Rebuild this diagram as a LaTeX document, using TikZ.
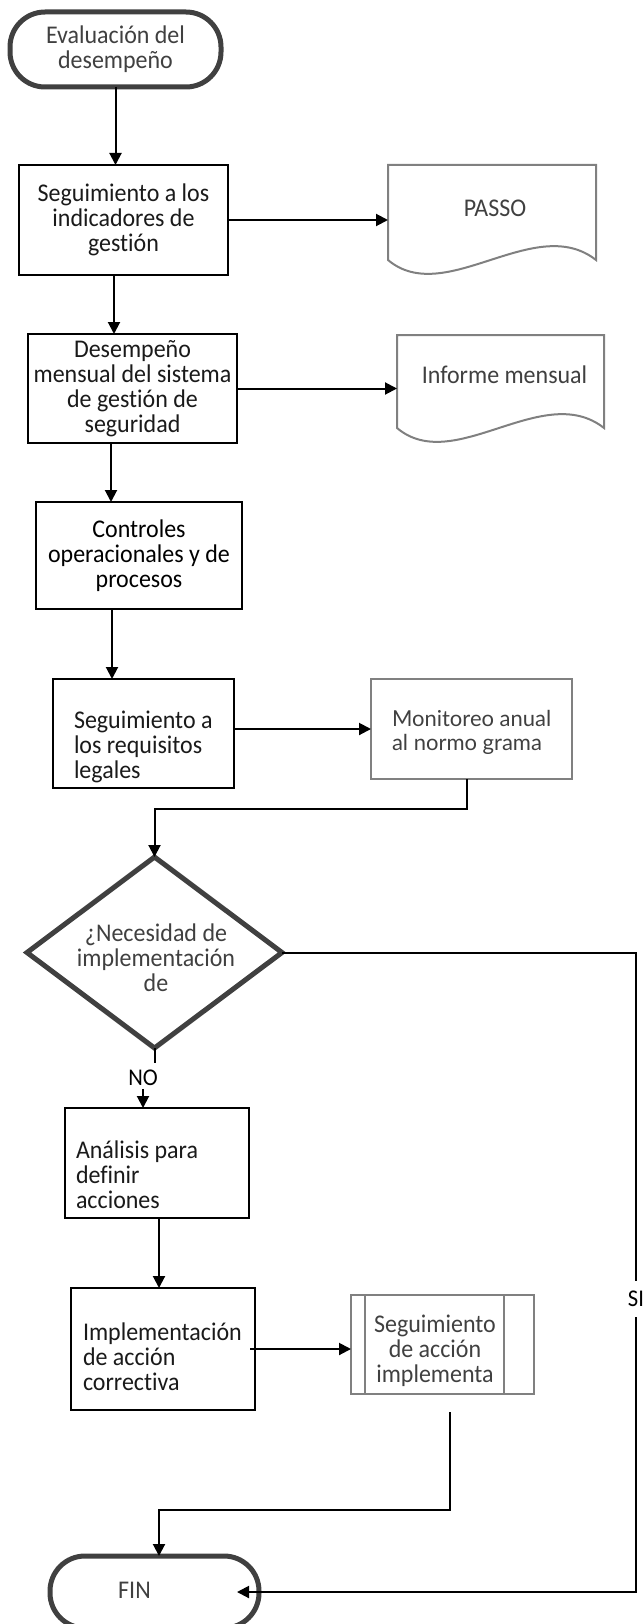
\documentclass[tikz,border=0pt]{standalone}
\usepackage{fontspec}
\setmainfont{Carlito}[FakeStretch=0.94,RawFeature={-liga;-clig;-calt;-dlig}]
\newfontfamily\latofont{Lato}[RawFeature={-liga;-clig;-calt;-dlig}]
\usetikzlibrary{arrows.meta,calc}
\definecolor{termgray}{HTML}{404040}
\definecolor{docgray}{HTML}{808080}
\definecolor{txtgray}{HTML}{404040}
\definecolor{txtblack}{HTML}{1A1A1A}
\begin{document}
\begin{tikzpicture}[x=1pt,y=-1pt,
  every node/.style={inner sep=0pt,outer sep=0pt},
  term/.style={draw=termgray,line width=5pt,rounded corners=35pt,fill=white},
  procbox/.style={draw=black,line width=2.5pt,fill=white},
  graybox/.style={draw=docgray,line width=2pt},
  conn/.style={line width=2pt,draw=black},
  arr/.style={conn,-{Triangle[length=12pt,width=12pt]}},
  btxt/.style={font=\fontsize{25.5}{25}\selectfont,text=txtblack,align=center},
  ltxt/.style={btxt,align=left},
  gtxt/.style={font=\fontsize{25.5}{25}\selectfont,text=txtgray,align=center}
]
\useasboundingbox (0,0) rectangle (644,1624);

% start
\node[term,minimum width=211pt,minimum height=75pt,btxt,text=termgray] (start) at (115.5,49.5) {Evaluación del\\desempeño};

% process boxes
\node[procbox,minimum width=209pt,minimum height=110pt,btxt] (box1) at (123.5,220) {Seguimiento a los\\indicadores de\\gestión};
\node[procbox,minimum width=209pt,minimum height=109pt,btxt] (box2) at (132.5,388.5) {Desempeño\\mensual del sistema\\de gestión de\\seguridad};
\node[procbox,minimum width=206pt,minimum height=107pt,btxt,text=black] (box3) at (139,555.5) {Controles\\operacionales y de\\procesos};
\node[procbox,minimum width=181pt,minimum height=109pt] (box4) at (143.5,733.5) {};
\node[ltxt,anchor=west] (box4t) at (74,746.5) {Seguimiento a\\los requisitos\\legales};

% documents
\node[minimum width=208pt,minimum height=95pt] (passo) at (492,212.5) {};
\draw[graybox] (passo.south west) -- (passo.north west) -- (passo.north east) -- (passo.south east)
  .. controls +(-61,-48) and +(57,48) .. (passo.south west) -- cycle;
\node[gtxt] (passot) at (495,208) {PASSO};

\node[minimum width=207pt,minimum height=93pt] (inf) at (500.5,381.5) {};
\draw[graybox] (inf.south west) -- (inf.north west) -- (inf.north east) -- (inf.south east)
  .. controls +(-61,-48) and +(57,48) .. (inf.south west) -- cycle;
\node[gtxt] (inft) at (504.5,375) {Informe mensual};

% monitoreo
\node[graybox,minimum width=201pt,minimum height=100pt] (mon) at (471.5,729) {};
\node[anchor=west,font=\latofont\fontsize{22}{24}\selectfont,text=txtgray,align=left] (mont) at (392,732) {Monitoreo anual\\al normo grama};

% decision
\node[minimum width=255pt,minimum height=191pt] (dia) at (154.5,952.5) {};
\draw[draw=termgray,line width=5pt,line join=miter] (dia.north) -- (dia.east) -- (dia.south) -- (dia.west) -- cycle;
\node[gtxt] (diat) at (156,958) {¿Necesidad de\\implementación\\de};

\node[font=\fontsize{24}{25}\selectfont,text=black] (no) at (143,1078) {NO};

% analysis / implementation
\node[procbox,minimum width=184pt,minimum height=110pt] (ana) at (157,1163) {};
\node[ltxt,anchor=west] (anat) at (76,1175) {Análisis para\\definir\\acciones};
\node[procbox,minimum width=184pt,minimum height=122pt] (impl) at (163,1349) {};
\node[ltxt,anchor=west] (implt) at (83,1357) {Implementación\\de acción\\correctiva};

% predefined process
\node[graybox,minimum width=183pt,minimum height=99pt] (seg) at (442.5,1344.5) {};
\draw[graybox] ([xshift=14pt]seg.north west) -- ([xshift=14pt]seg.south west);
\draw[graybox] ([xshift=-30pt]seg.north east) -- ([xshift=-30pt]seg.south east);
\node[gtxt] (segt) at (435,1351) {Seguimiento\\de acción\\implementa};

% end
\node[term,minimum width=209pt,minimum height=72pt] (fin) at (154.5,1592) {};
\node[btxt,text=termgray] (fint) at (134.5,1590) {FIN};

% connectors
\draw[arr] (start.south) -- (start.south |- box1.north);
\coordinate (a1) at ([xshift=-9.5pt]box1.south);
\draw[arr] (a1) -- (a1 |- box2.north);
\coordinate (a2) at ([xshift=-21.5pt]box2.south);
\draw[arr] (a2) -- (a2 |- box3.north);
\coordinate (a3) at ([xshift=-27pt]box3.south);
\draw[arr] (a3) -- (a3 |- box4.north);
\draw[arr] (box1.east) -- (box1.east -| passo.west);
\draw[arr] (box2.east) -- (box2.east -| inf.west);
\draw[arr] (mon.west -| box4.east) -- (mon.west);
\coordinate (m1) at ([xshift=-4.5pt]mon.south);
\draw[arr] (m1) -- ++(0,30) -| (dia.north);

\draw[conn] (dia.south) -- ++(0,15);
\draw[arr] ([yshift=-3pt]no.south) -- (no.south |- ana.north);
\draw[arr] ([xshift=2pt]ana.south) -- ([xshift=2pt]ana.south |- impl.north);
\draw[arr] ([xshift=-5pt]impl.east) -- (impl.east -| seg.west);

\coordinate (rc) at (636,1592);
\coordinate (finin) at ([xshift=-22pt]fin.east);
\draw[arr] (dia.east) -| (rc) -- (finin);
\node[fill=white,font=\fontsize{24}{25}\selectfont,text=black,inner ysep=10pt,inner xsep=1pt] (si) at (636,1299) {SI};

\coordinate (s1) at (450,1412);
\draw[arr] (s1) -- ++(0,98) -| ([xshift=4.5pt]fin.north);
\end{tikzpicture}
\end{document}
